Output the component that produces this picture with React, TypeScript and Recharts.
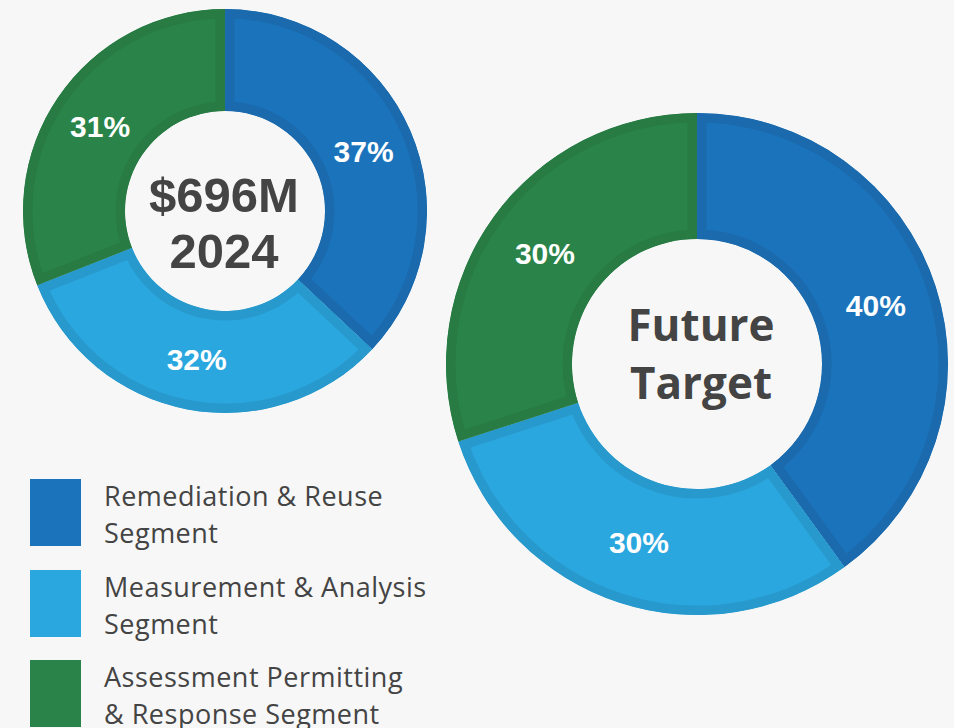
import React from 'react';
import { PieChart, Pie, Cell } from 'recharts';

const segments = ['Remediation & Reuse', 'Measurement & Analysis', 'Assessment Permitting'];
const legendSecondLines = ['Segment', 'Segment', '& Response Segment'];
const share2024 = [37, 32, 31];
const shareTarget = [40, 30, 30];
const centerText2024 = ['$696M', '2024'];
const centerTextTarget = ['Future', 'Target'];

const fills = ['#1b74bb', '#2ba7df', '#2a8449'];
const borders = ['#1a6aad', '#2899cc', '#277b43'];

const data2024 = segments.map((name, i) => ({ name, value: share2024[i] }));
const dataTarget = segments.map((name, i) => ({ name, value: shareTarget[i] }));

const RAD = Math.PI / 180;

const renderLabel = (props: any) => {
  const { cx, cy, midAngle, innerRadius, outerRadius, value } = props;
  const r = (innerRadius + outerRadius) / 2;
  const x = cx + r * Math.cos(-midAngle * RAD);
  const y = cy + r * Math.sin(-midAngle * RAD);
  return (
    <text
      x={x}
      y={y}
      fill="#ffffff"
      textAnchor="middle"
      dominantBaseline="central"
      style={{ fontFamily: '"Liberation Sans", Arial, sans-serif', fontWeight: 700, fontSize: 30 }}
    >
      {`${value}%`}
    </text>
  );
};

// donut geometry
const donuts = [
  { key: 'y2024', data: data2024, cx: 225, cy: 211, inner: 100, outer: 202 },
  { key: 'target', data: dataTarget, cx: 697, cy: 364, inner: 125, outer: 251 },
];

const App: React.FC = () => {
  return (
    <div
      style={{
        position: 'fixed',
        left: 0,
        top: 0,
        width: 954,
        height: 728,
        background: '#f7f7f7',
        overflow: 'hidden',
      }}
    >
      <PieChart width={954} height={728} margin={{ top: 0, right: 0, bottom: 0, left: 0 }}>
        <defs>
          {donuts.map((d) =>
            d.data.map((_, i) => (
              <clipPath id={`clip-${d.key}-${i}`} key={`clip-${d.key}-${i}`}>
                <use href={`#shape-${d.key}-${i}`} />
              </clipPath>
            ))
          )}
        </defs>
        {/* invisible copies, used only as clip shapes so the borders sit inside each slice */}
        {donuts.map((d) => (
          <Pie
            key={`shape-${d.key}`}
            data={d.data}
            dataKey="value"
            cx={d.cx}
            cy={d.cy}
            innerRadius={d.inner}
            outerRadius={d.outer}
            startAngle={90}
            endAngle={-270}
            label={false}
            labelLine={false}
            isAnimationActive={false}
          >
            {d.data.map((e, i) => (
              <Cell key={e.name} id={`shape-${d.key}-${i}`} fill="none" stroke="none" />
            ))}
          </Pie>
        ))}
        {donuts.map((d) => (
          <Pie
            key={d.key}
            data={d.data}
            dataKey="value"
            cx={d.cx}
            cy={d.cy}
            innerRadius={d.inner}
            outerRadius={d.outer}
            startAngle={90}
            endAngle={-270}
            strokeWidth={19}
            label={renderLabel}
            labelLine={false}
            isAnimationActive={false}
          >
            {d.data.map((e, i) => (
              <Cell
                key={e.name}
                fill={fills[i]}
                stroke={borders[i]}
                clipPath={`url(#clip-${d.key}-${i})`}
              />
            ))}
          </Pie>
        ))}
        <text
          textAnchor="middle"
          fill="#444444"
          style={{ fontFamily: '"Liberation Sans", Arial, sans-serif', fontWeight: 700, fontSize: 49 }}
        >
          <tspan x={224} y={212}>{centerText2024[0]}</tspan>
          <tspan x={224} y={268}>{centerText2024[1]}</tspan>
        </text>
        <text
          textAnchor="middle"
          fill="#444444"
          style={{ fontFamily: '"Open Sans", sans-serif', fontWeight: 700, fontSize: 44 }}
        >
          <tspan x={701} y={341}>{centerTextTarget[0]}</tspan>
          <tspan x={701} y={399}>{centerTextTarget[1]}</tspan>
        </text>
      </PieChart>
      <div style={{ position: 'absolute', left: 30, top: 479 }}>
        {segments.map((name, i) => (
          <div key={name} style={{ position: 'absolute', left: 0, top: i * 90.5, width: 440, height: 67 }}>
            <div style={{ position: 'absolute', left: 0, top: 0, width: 51, height: 67, background: fills[i] }} />
            <div
              style={{
                position: 'absolute',
                left: 74,
                top: -2,
                fontFamily: '"Open Sans", sans-serif',
                fontSize: 27,
                lineHeight: '37px',
                letterSpacing: '0.5px',
                color: '#444444',
                whiteSpace: 'nowrap',
              }}
            >
              <div>{name}</div>
              <div>{legendSecondLines[i]}</div>
            </div>
          </div>
        ))}
      </div>
    </div>
  );
};

export default App;
